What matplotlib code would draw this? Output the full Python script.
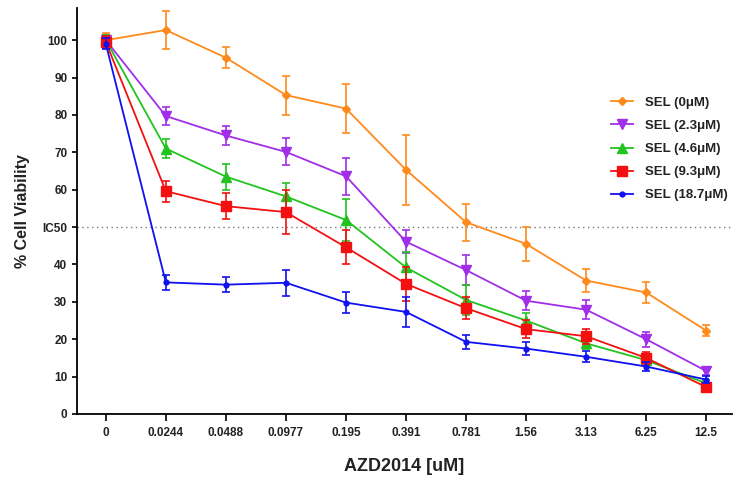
import matplotlib
matplotlib.use("Agg")
import matplotlib.pyplot as plt
import numpy as np

plt.rcParams['font.family'] = ['Liberation Sans', 'DejaVu Sans']

doses = ["0", "0.0244", "0.0488", "0.0977", "0.195", "0.391", "0.781", "1.56", "3.13", "6.25", "12.5"]

labels = ["SEL (0μM)", "SEL (2.3μM)", "SEL (4.6μM)", "SEL (9.3μM)", "SEL (18.7μM)"]

sel0 = [100.0, 102.7, 95.3, 85.3, 81.7, 65.3, 51.3, 45.5, 35.7, 32.5, 22.3]
sel0_err = [2.0, 5.0, 2.8, 5.2, 6.5, 9.3, 5.0, 4.5, 3.0, 2.8, 1.5]

sel23 = [100.0, 79.7, 74.5, 70.1, 63.6, 46.1, 38.5, 30.3, 27.9, 20.0, 11.5]
sel23_err = [1.5, 2.5, 2.6, 3.6, 5.0, 3.0, 4.0, 2.5, 2.5, 2.0, 1.2]

sel46 = [100.0, 71.0, 63.5, 58.2, 51.9, 39.2, 30.5, 25.0, 18.9, 14.4, 8.2]
sel46_err = [1.5, 2.5, 3.5, 3.7, 5.5, 4.0, 4.0, 2.0, 1.5, 1.5, 1.0]

sel93 = [99.5, 59.6, 55.6, 54.0, 44.6, 34.8, 28.3, 22.7, 20.8, 15.0, 7.2]
sel93_err = [1.5, 2.8, 3.5, 5.8, 4.5, 4.5, 3.0, 2.5, 2.0, 1.5, 1.0]

sel187 = [99.0, 35.2, 34.6, 35.1, 29.8, 27.3, 19.3, 17.5, 15.3, 12.7, 9.2]
sel187_err = [1.5, 2.0, 2.0, 3.5, 2.7, 4.0, 1.8, 1.8, 1.5, 1.2, 1.0]

series = [sel0, sel23, sel46, sel93, sel187]
errors = [sel0_err, sel23_err, sel46_err, sel93_err, sel187_err]
colors = ["#FF8A1C", "#A12EE8", "#22C31E", "#F21010", "#1010F0"]
markers = ["D", "v", "^", "s", "o"]
msizes = [4.5, 6.5, 6.5, 6.5, 3.5]

fig = plt.figure(figsize=(7.37, 4.8), dpi=100)
ax = fig.add_axes([77/737, 66/480, (732-77)/737, (414-8)/480])

x = np.arange(len(doses))
handles = []
for y, e, c, m, ms, lab in zip(series, errors, colors, markers, msizes, labels):
    ax.errorbar(x, y, yerr=e, color=c, fmt='none', capsize=3, elinewidth=1.2, capthick=1.2)
    h, = ax.plot(x, y, color=c, marker=m, markersize=ms, lw=1.3, label=lab)
    handles.append(h)

ax.axhline(50, color="#777777", ls=(0, (1, 2.5)), lw=1.0, zorder=0)

ax.set_xlim(-0.48, 10.43)
ax.set_ylim(0, 108.6)
ax.set_xticks(x)
ax.set_xticklabels(doses, fontsize=8.5, fontweight='bold', color='#222222')
yt = [0, 10, 20, 30, 40, 50, 60, 70, 80, 90, 100]
ax.set_yticks(yt)
ax.set_yticklabels([("IC50" if v == 50 else str(v)) for v in yt], fontsize=8.5, fontweight='bold', color='#222222')
ax.spines['top'].set_visible(False)
ax.spines['right'].set_visible(False)
ax.spines['left'].set_linewidth(1.3)
ax.spines['bottom'].set_linewidth(1.3)
ax.tick_params(axis='x', direction='out', length=5, width=1.2, pad=4)
ax.tick_params(axis='y', direction='out', length=3.5, width=1.2, pad=3.5)

ax.set_xlabel("AZD2014 [uM]", fontsize=13, fontweight='bold', labelpad=14, color='#222222')
ax.set_ylabel("% Cell Viability", fontsize=11.5, fontweight='bold', labelpad=9, color='#222222')

leg = fig.legend(handles=handles, loc='center left', bbox_to_anchor=(599/737, 331/480),
                 bbox_transform=fig.transFigure, frameon=False,
                 handlelength=1.67, handletextpad=0.9, labelspacing=0.82,
                 prop={'weight': 'bold', 'size': 9.5})
for t in leg.get_texts():
    t.set_color('#222222')

fig.savefig("out.png", dpi=100)
